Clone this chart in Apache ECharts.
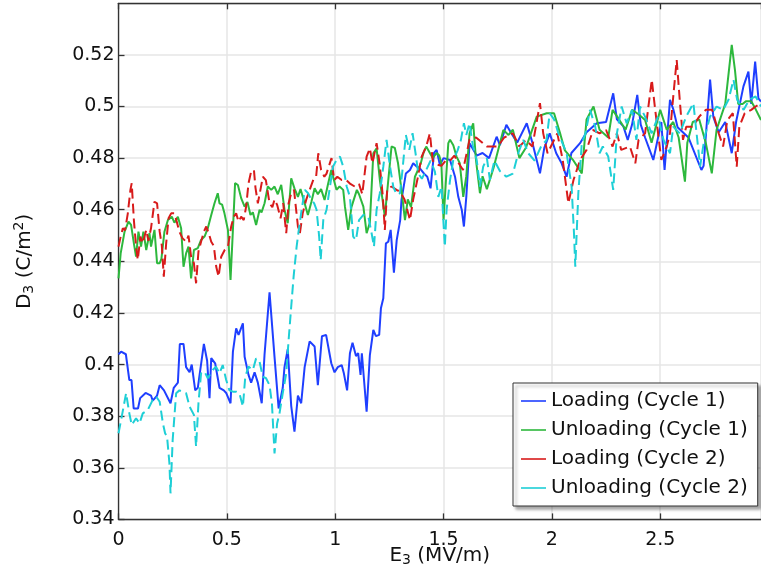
<!DOCTYPE html>
<html>
<head>
<meta charset="utf-8">
<script src="https://cdn.jsdelivr.net/npm/echarts@6/dist/echarts.min.js"></script>
<style>html,body{margin:0;padding:0;background:#fff}#c{width:761px;height:573px}</style>
</head>
<body>
<div id="c"></div>
<script>
var seriesNames = ['Loading (Cycle 1)', 'Unloading (Cycle 1)', 'Loading (Cycle 2)', 'Unloading (Cycle 2)'];
var xTicks = [0, 0.5, 1, 1.5, 2, 2.5];
var yTicks = [0.34, 0.36, 0.38, 0.4, 0.42, 0.44, 0.46, 0.48, 0.5, 0.52];

var loadingCycle1 = [[0,0.404],[0.012,0.405],[0.034,0.404],[0.05,0.394],[0.06,0.394],[0.07,0.383],[0.09,0.383],[0.10,0.387],[0.125,0.389],[0.15,0.388],[0.158,0.386],[0.178,0.388],[0.19,0.392],[0.21,0.390],[0.24,0.385],[0.255,0.391],[0.274,0.393],[0.283,0.408],[0.30,0.408],[0.312,0.399],[0.328,0.397],[0.338,0.400],[0.354,0.390],[0.366,0.391],[0.394,0.408],[0.409,0.4015],[0.42,0.387],[0.428,0.4025],[0.446,0.4005],[0.466,0.391],[0.486,0.390],[0.497,0.389],[0.517,0.385],[0.528,0.405],[0.543,0.414],[0.554,0.4115],[0.574,0.416],[0.582,0.403],[0.60,0.396],[0.612,0.393],[0.628,0.397],[0.643,0.393],[0.661,0.385],[0.674,0.404],[0.697,0.428],[0.72,0.403],[0.739,0.383],[0.758,0.391],[0.766,0.399],[0.781,0.406],[0.797,0.384],[0.812,0.374],[0.828,0.388],[0.843,0.385],[0.859,0.399],[0.882,0.409],[0.905,0.407],[0.92,0.392],[0.939,0.411],[0.958,0.4115],[0.982,0.4005],[0.997,0.397],[1.012,0.399],[1.03,0.3998],[1.04,0.3966],[1.055,0.390],[1.068,0.4044],[1.08,0.4085],[1.096,0.4033],[1.106,0.4044],[1.117,0.396],[1.123,0.4044],[1.145,0.3817],[1.16,0.4037],[1.176,0.4134],[1.188,0.411],[1.203,0.4115],[1.211,0.4218],[1.222,0.4257],[1.234,0.447],[1.245,0.4476],[1.256,0.4522],[1.271,0.4356],[1.284,0.4483],[1.30,0.456],[1.306,0.4638],[1.326,0.474],[1.345,0.4754],[1.36,0.478],[1.376,0.4767],[1.39,0.4761],[1.41,0.474],[1.425,0.4728],[1.44,0.4683],[1.456,0.482],[1.468,0.4832],[1.483,0.4774],[1.5,0.480],[1.53,0.4793],[1.553,0.4728],[1.568,0.465],[1.584,0.46],[1.594,0.4535],[1.605,0.465],[1.62,0.4858],[1.653,0.481],[1.68,0.482],[1.71,0.480],[1.745,0.4883],[1.76,0.485],[1.79,0.4929],[1.81,0.490],[1.84,0.486],[1.884,0.4935],[1.91,0.486],[1.945,0.4741],[1.965,0.484],[1.99,0.4896],[2.02,0.4819],[2.045,0.478],[2.068,0.4728],[2.09,0.482],[2.13,0.4858],[2.16,0.490],[2.207,0.4935],[2.25,0.494],[2.283,0.5051],[2.30,0.495],[2.33,0.4923],[2.35,0.487],[2.37,0.493],[2.394,0.5045],[2.41,0.493],[2.43,0.488],[2.468,0.4793],[2.49,0.488],[2.505,0.494],[2.52,0.4754],[2.545,0.5026],[2.56,0.499],[2.58,0.492],[2.63,0.488],[2.69,0.4754],[2.70,0.477],[2.73,0.5104],[2.745,0.496],[2.77,0.490],[2.80,0.494],[2.83,0.4819],[2.85,0.494],[2.884,0.5078],[2.907,0.5135],[2.92,0.501],[2.938,0.5174],[2.953,0.5032],[2.965,0.5019]];

var unloadingCycle1 = [[0,0.4334],[0.01,0.4431],[0.028,0.4515],[0.046,0.4554],[0.058,0.4541],[0.071,0.447],[0.081,0.4418],[0.092,0.4515],[0.104,0.4457],[0.115,0.4515],[0.128,0.4444],[0.143,0.4509],[0.15,0.4457],[0.166,0.4522],[0.178,0.4393],[0.19,0.4393],[0.198,0.441],[0.212,0.4515],[0.228,0.456],[0.246,0.4573],[0.258,0.455],[0.274,0.4573],[0.289,0.4528],[0.30,0.4379],[0.312,0.4431],[0.323,0.4457],[0.335,0.4334],[0.348,0.4444],[0.366,0.4451],[0.381,0.4483],[0.397,0.4496],[0.412,0.4528],[0.428,0.458],[0.443,0.4625],[0.458,0.4664],[0.466,0.4625],[0.478,0.462],[0.489,0.4586],[0.505,0.4522],[0.517,0.4328],[0.528,0.4522],[0.538,0.4703],[0.551,0.4696],[0.566,0.4645],[0.582,0.4612],[0.595,0.463],[0.609,0.458],[0.62,0.459],[0.635,0.4541],[0.651,0.46],[0.66,0.459],[0.674,0.4625],[0.689,0.469],[0.705,0.4677],[0.72,0.469],[0.735,0.466],[0.751,0.4696],[0.766,0.46],[0.781,0.4548],[0.797,0.4722],[0.812,0.4683],[0.828,0.465],[0.84,0.468],[0.859,0.4625],[0.874,0.458],[0.89,0.463],[0.905,0.4683],[0.92,0.466],[0.935,0.468],[0.951,0.4638],[0.966,0.4696],[0.982,0.4754],[0.99,0.4728],[1.006,0.4677],[1.02,0.469],[1.037,0.4677],[1.045,0.4612],[1.06,0.4522],[1.075,0.461],[1.1,0.4677],[1.11,0.466],[1.13,0.4612],[1.145,0.4509],[1.16,0.455],[1.176,0.4819],[1.191,0.4838],[1.206,0.4716],[1.229,0.4573],[1.237,0.4645],[1.26,0.4845],[1.275,0.484],[1.29,0.478],[1.306,0.4677],[1.322,0.456],[1.335,0.464],[1.35,0.461],[1.368,0.4728],[1.38,0.475],[1.395,0.478],[1.407,0.4819],[1.42,0.4845],[1.437,0.482],[1.45,0.480],[1.468,0.482],[1.48,0.481],[1.49,0.478],[1.5,0.456],[1.51,0.470],[1.522,0.4858],[1.53,0.4871],[1.545,0.485],[1.56,0.4806],[1.575,0.478],[1.591,0.465],[1.605,0.473],[1.62,0.4896],[1.637,0.4935],[1.65,0.479],[1.668,0.4664],[1.68,0.473],[1.70,0.468],[1.73,0.476],[1.776,0.4909],[1.80,0.489],[1.82,0.491],[1.85,0.480],[1.88,0.484],[1.93,0.4961],[1.976,0.4974],[2.01,0.4974],[2.04,0.489],[2.06,0.483],[2.10,0.479],[2.138,0.4741],[2.16,0.495],[2.192,0.5],[2.22,0.491],[2.26,0.488],[2.28,0.4987],[2.31,0.495],[2.34,0.491],[2.37,0.4987],[2.40,0.497],[2.43,0.4948],[2.46,0.486],[2.50,0.4987],[2.53,0.491],[2.56,0.494],[2.585,0.488],[2.614,0.4709],[2.625,0.486],[2.65,0.494],[2.68,0.495],[2.71,0.486],[2.738,0.4741],[2.76,0.491],[2.80,0.501],[2.83,0.5239],[2.845,0.514],[2.86,0.501],[2.88,0.501],[2.895,0.502],[2.92,0.502],[2.94,0.499],[2.965,0.4948]];

var loadingCycle2 = [[0,0.4457],[0.01,0.4496],[0.02,0.4528],[0.03,0.452],[0.043,0.4586],[0.055,0.4677],[0.061,0.4703],[0.071,0.456],[0.081,0.4457],[0.089,0.4406],[0.101,0.4496],[0.112,0.447],[0.128,0.4522],[0.138,0.448],[0.15,0.4528],[0.166,0.4631],[0.178,0.4625],[0.19,0.4515],[0.2,0.446],[0.209,0.4341],[0.22,0.447],[0.231,0.4567],[0.243,0.4586],[0.258,0.4586],[0.27,0.455],[0.281,0.4515],[0.295,0.449],[0.312,0.4476],[0.323,0.450],[0.335,0.4418],[0.348,0.4393],[0.358,0.4315],[0.369,0.4438],[0.381,0.4476],[0.394,0.4515],[0.405,0.4535],[0.416,0.451],[0.428,0.4476],[0.44,0.446],[0.451,0.4379],[0.462,0.4341],[0.474,0.4418],[0.49,0.4444],[0.505,0.4457],[0.52,0.4535],[0.532,0.4573],[0.543,0.4586],[0.554,0.4554],[0.566,0.4573],[0.578,0.456],[0.589,0.4612],[0.60,0.4703],[0.612,0.4748],[0.625,0.4754],[0.632,0.4686],[0.643,0.4625],[0.655,0.4677],[0.666,0.4728],[0.68,0.4715],[0.697,0.4625],[0.71,0.461],[0.72,0.4640],[0.732,0.4619],[0.748,0.4567],[0.76,0.4625],[0.774,0.4509],[0.785,0.4625],[0.797,0.4664],[0.81,0.4677],[0.828,0.4535],[0.837,0.4509],[0.85,0.4586],[0.866,0.4638],[0.882,0.4677],[0.899,0.4716],[0.912,0.4728],[0.922,0.4819],[0.935,0.4754],[0.95,0.4728],[0.96,0.4740],[0.983,0.480],[0.995,0.4715],[1.01,0.4728],[1.03,0.4715],[1.05,0.4716],[1.07,0.4700],[1.09,0.4690],[1.11,0.4700],[1.125,0.4660],[1.145,0.4806],[1.16,0.4838],[1.172,0.4780],[1.191,0.4858],[1.205,0.4780],[1.22,0.4650],[1.229,0.4522],[1.24,0.4680],[1.26,0.4690],[1.283,0.4677],[1.30,0.4670],[1.32,0.4640],[1.345,0.4560],[1.36,0.4640],[1.38,0.4720],[1.399,0.4806],[1.42,0.4845],[1.437,0.4896],[1.45,0.4790],[1.47,0.4775],[1.49,0.4770],[1.51,0.4790],[1.53,0.4790],[1.55,0.4810],[1.57,0.4780],[1.59,0.4754],[1.62,0.4871],[1.65,0.4880],[1.70,0.4845],[1.75,0.4845],[1.78,0.4880],[1.82,0.4896],[1.85,0.4845],[1.88,0.4870],[1.91,0.4845],[1.945,0.5013],[1.96,0.4896],[1.98,0.4819],[2.025,0.4896],[2.05,0.4793],[2.076,0.4625],[2.10,0.4716],[2.13,0.4793],[2.16,0.4832],[2.19,0.4909],[2.22,0.4896],[2.25,0.4909],[2.28,0.4845],[2.30,0.4896],[2.32,0.4832],[2.36,0.4845],[2.385,0.4780],[2.40,0.4871],[2.43,0.4896],[2.461,0.5104],[2.475,0.5000],[2.49,0.4896],[2.505,0.4793],[2.53,0.4845],[2.545,0.4896],[2.56,0.5038],[2.576,0.518],[2.59,0.5026],[2.605,0.4871],[2.62,0.4922],[2.65,0.4922],[2.68,0.4961],[2.71,0.4987],[2.74,0.4987],[2.77,0.4896],[2.79,0.4845],[2.81,0.4948],[2.835,0.4974],[2.853,0.4767],[2.865,0.4922],[2.89,0.4974],[2.92,0.4987],[2.94,0.5000],[2.965,0.5013]];

var unloadingCycle2 = [[0,0.3734],[0.012,0.3785],[0.035,0.3889],[0.05,0.3811],[0.061,0.3766],[0.081,0.3792],[0.097,0.3772],[0.112,0.3811],[0.135,0.3824],[0.158,0.3863],[0.174,0.3876],[0.19,0.3856],[0.205,0.3772],[0.215,0.3734],[0.224,0.3721],[0.235,0.3617],[0.24,0.3501],[0.25,0.3708],[0.266,0.3889],[0.281,0.390],[0.297,0.3895],[0.312,0.3889],[0.328,0.3837],[0.348,0.3805],[0.358,0.3682],[0.369,0.385],[0.381,0.3966],[0.397,0.3973],[0.412,0.3947],[0.435,0.3979],[0.45,0.3992],[0.466,0.3966],[0.481,0.3998],[0.497,0.394],[0.512,0.390],[0.528,0.3895],[0.543,0.3895],[0.558,0.3889],[0.574,0.3837],[0.585,0.3953],[0.60,0.3992],[0.62,0.3979],[0.635,0.4024],[0.651,0.4011],[0.666,0.3953],[0.681,0.3947],[0.697,0.392],[0.708,0.385],[0.72,0.3656],[0.732,0.3772],[0.743,0.3811],[0.758,0.3889],[0.774,0.3966],[0.785,0.4095],[0.797,0.4224],[0.808,0.4340],[0.822,0.4457],[0.83,0.4509],[0.845,0.4600],[0.86,0.4677],[0.875,0.4664],[0.891,0.4638],[0.903,0.4625],[0.914,0.4600],[0.926,0.4496],[0.933,0.4405],[0.945,0.4560],[0.96,0.4600],[0.976,0.4690],[0.99,0.4767],[1.006,0.4793],[1.022,0.4806],[1.037,0.4767],[1.053,0.4690],[1.068,0.4650],[1.083,0.4496],[1.096,0.4483],[1.11,0.4560],[1.13,0.4580],[1.153,0.4573],[1.168,0.4509],[1.179,0.4457],[1.191,0.4600],[1.206,0.4664],[1.222,0.4767],[1.237,0.4871],[1.253,0.4767],[1.268,0.4690],[1.283,0.4660],[1.299,0.4664],[1.31,0.4750],[1.326,0.4890],[1.342,0.4832],[1.357,0.4897],[1.373,0.4806],[1.383,0.4741],[1.40,0.4720],[1.42,0.4754],[1.44,0.4790],[1.46,0.4748],[1.476,0.4650],[1.491,0.4690],[1.499,0.4560],[1.506,0.4457],[1.514,0.4600],[1.53,0.4715],[1.545,0.4793],[1.565,0.4830],[1.58,0.4870],[1.594,0.4935],[1.605,0.4890],[1.62,0.4935],[1.635,0.4850],[1.653,0.4793],[1.668,0.4690],[1.683,0.4767],[1.70,0.4800],[1.714,0.4716],[1.735,0.4790],[1.76,0.4750],[1.79,0.4728],[1.82,0.4740],[1.845,0.4820],[1.868,0.4871],[1.89,0.4820],[1.92,0.4790],[1.95,0.4845],[1.975,0.4870],[1.99,0.4974],[2.01,0.4950],[2.03,0.4896],[2.068,0.4819],[2.091,0.4690],[2.102,0.4509],[2.108,0.4379],[2.122,0.4664],[2.138,0.4858],[2.155,0.4896],[2.176,0.4987],[2.20,0.4922],[2.22,0.4819],[2.235,0.4845],[2.26,0.4806],[2.283,0.4677],[2.30,0.4896],[2.322,0.5000],[2.345,0.4935],[2.37,0.4987],[2.39,0.4871],[2.407,0.5000],[2.43,0.4961],[2.46,0.4896],[2.49,0.4961],[2.515,0.4871],[2.545,0.4819],[2.56,0.4922],[2.59,0.4896],[2.62,0.4961],[2.653,0.5013],[2.684,0.4767],[2.705,0.4883],[2.73,0.4961],[2.76,0.5000],[2.79,0.4987],[2.815,0.5026],[2.838,0.5104],[2.855,0.5026],[2.885,0.4987],[2.91,0.5026],[2.94,0.5039],[2.965,0.5000]];

var FONT = 'DejaVu Sans';
var chart = echarts.init(document.getElementById('c'), null, {renderer: 'canvas'});

function isTick(list, v) {
  for (var i = 0; i < list.length; i++) if (Math.abs(list[i] - v) < 1e-9) return true;
  return false;
}

var colors = ['#1f3fff', '#2db83d', '#d81b1b', '#1ecfd6'];
var dataSets = [loadingCycle1, unloadingCycle1, loadingCycle2, unloadingCycle2];
var dashed = [false, false, true, true];

var series = seriesNames.map(function (name, i) {
  return {
    name: name,
    type: 'line',
    data: dataSets[i],
    showSymbol: false,
    symbol: 'none',
    xAxisIndex: 0,
    yAxisIndex: 0,
    lineStyle: {color: colors[i], width: 2, type: dashed[i] ? [10, 5] : 'solid'},
    itemStyle: {color: colors[i]},
    animation: false
  };
});

var axisCommon = {
  axisLine: {show: true, lineStyle: {color: '#333', width: 1.3}},
  axisTick: {show: true, inside: true, length: 6, lineStyle: {color: '#333', width: 1.3}}
};

chart.setOption({
  backgroundColor: '#fff',
  animation: false,
  color: colors,
  grid: {left: 118.5, top: 3.3, right: 0, bottom: 53.6, containLabel: false, outerBoundsMode: 'none'},
  legend: {
    orient: 'vertical',
    left: 513,
    top: 383,
    data: seriesNames,
    icon: 'rect',
    itemWidth: 25,
    itemHeight: 1.6,
    itemGap: 9,
    padding: [8, 10, 8, 8],
    backgroundColor: '#fff',
    borderColor: '#333',
    borderWidth: 1,
    borderRadius: 0,
    shadowColor: 'rgba(0,0,0,0.35)',
    shadowBlur: 3,
    shadowOffsetX: 3,
    shadowOffsetY: 3,
    itemStyle: {borderWidth: 0},
    textStyle: {fontFamily: FONT, fontSize: 20, color: '#111'}
  },
  xAxis: [
    Object.assign({
      type: 'value', min: 0, max: 2.965, interval: 0.5, position: 'bottom',
      name: 'E{sub|3} (MV/m)', nameLocation: 'middle', nameGap: 24, nameMoveOverlap: false,
      nameTextStyle: {fontFamily: FONT, fontSize: 20, color: '#111',
        rich: {sub: {fontFamily: FONT, fontSize: 14, color: '#111', verticalAlign: 'bottom', padding: [10, 0, 0, 0]}}},
      axisLabel: {fontFamily: FONT, fontSize: 19, color: '#111', margin: 11, showMaxLabel: false,
        formatter: function (v) { return isTick(xTicks, v) ? String(v) : ''; }},
      splitLine: {show: true, lineStyle: {color: '#e6e6e6', width: 1.5}}
    }, axisCommon),
    Object.assign({
      type: 'value', min: 0, max: 2.965, interval: 0.5, position: 'top',
      axisLabel: {show: false}, splitLine: {show: false}
    }, axisCommon)
  ],
  yAxis: [
    Object.assign({
      type: 'value', min: 0.34, max: 0.54, interval: 0.02,
      name: 'D{sub|3} (C/m{sup|2})', nameLocation: 'middle', nameGap: 82, nameRotate: 90, nameMoveOverlap: false,
      nameTextStyle: {fontFamily: FONT, fontSize: 20, color: '#111',
        rich: {
          sub: {fontFamily: FONT, fontSize: 14, color: '#111', verticalAlign: 'bottom', padding: [10, 0, 0, 0]},
          sup: {fontFamily: FONT, fontSize: 14, color: '#111', verticalAlign: 'top', padding: [0, 0, 10, 0]}
        }},
      axisLabel: {fontFamily: FONT, fontSize: 19, color: '#111', margin: 4, showMaxLabel: false,
        formatter: function (v) { return isTick(yTicks, Math.round(v * 1000) / 1000) ? String(Math.round(v * 1000) / 1000) : ''; }},
      splitLine: {show: true, lineStyle: {color: '#e6e6e6', width: 1.5}}
    }, axisCommon)
  ],
  series: series
});
</script>
</body>
</html>
